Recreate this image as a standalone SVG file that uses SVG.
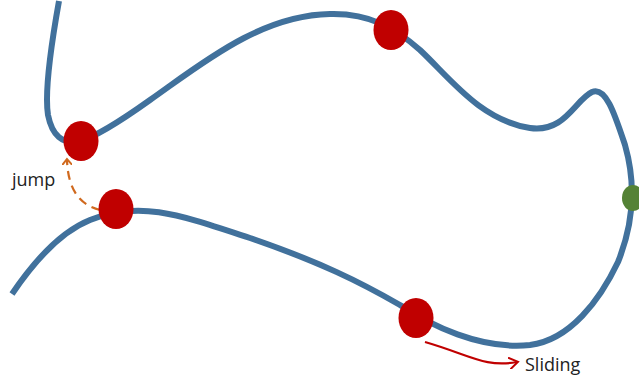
<svg xmlns="http://www.w3.org/2000/svg" width="639" height="381" viewBox="0 0 639 381">
<style>
.curve{fill:none;stroke:#41719c;stroke-width:6;stroke-linecap:butt}
.ball{fill:#c00000}
.lbl{font-family:"Open Sans","Liberation Sans",sans-serif;font-size:18px;fill:#222}
</style>
<defs>
<marker id="ao" markerWidth="10" markerHeight="10" refX="5" refY="5" orient="auto" markerUnits="userSpaceOnUse"><path d="M0,0 L6,5 L0,10" fill="none" stroke="#d0691e" stroke-width="2"/></marker>
<marker id="ar" markerWidth="12" markerHeight="12" refX="8" refY="6" orient="auto" markerUnits="userSpaceOnUse"><path d="M0,0 L9,6 L0,12" fill="none" stroke="#c00000" stroke-width="2"/></marker>
</defs>
<g id="connectors">
<path class="curve" d="M59,1 C52,40 44,90 48,115 C52,135 62,145 80,141 C95,137 115,125 150,100 C200,65 260,15 330,14 C370,13 395,28 420,50 C450,78 480,120 530,128 C565,133 575,100 592,92 C606,86 615,115 625,145 C635,180 635,220 618,262 C600,300 570,340 530,345 C480,350 430,325 400,305 C360,282 320,262 250,238 C180,215 140,200 90,220 C60,232 35,260 12,294"/>
<path d="M100,210 C80,205 68,190 67,160" fill="none" stroke="#d0691e" stroke-width="2.2" stroke-dasharray="9,6" marker-end="url(#ao)"/>
<path d="M425,342 C470,355 485,368 517,362" fill="none" stroke="#c00000" stroke-width="2.2" marker-end="url(#ar)"/>
</g>
<g id="n1"><ellipse class="ball" cx="81" cy="141" rx="17.5" ry="20"/></g>
<g id="n2"><ellipse class="ball" cx="116" cy="209" rx="17.5" ry="20"/></g>
<g id="n3"><ellipse class="ball" cx="391" cy="30" rx="17.5" ry="20"/></g>
<g id="n4"><ellipse class="ball" cx="416" cy="318" rx="17.5" ry="20"/></g>
<g id="n5"><ellipse cx="633" cy="198" rx="11" ry="13" fill="#548235"/></g>
<g id="t1"><text class="lbl" x="12" y="186">jump</text></g>
<g id="t2"><text class="lbl" x="525" y="371">Sliding</text></g>
</svg>
